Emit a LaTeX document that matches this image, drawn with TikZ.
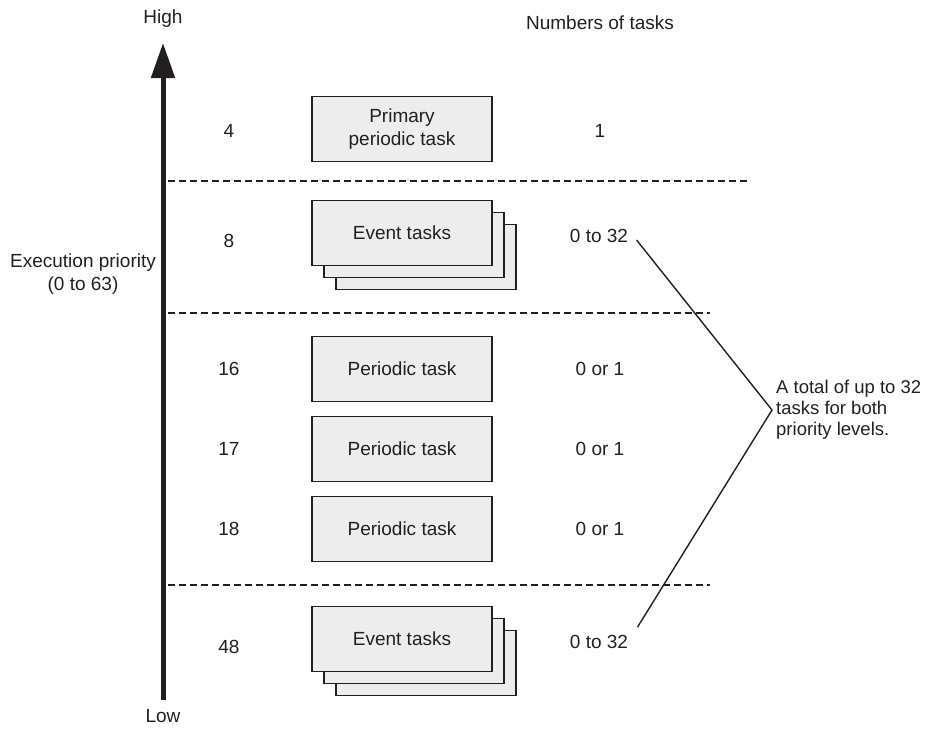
\documentclass[tikz,border=0pt]{standalone}
\usepackage{fontspec}
\setmainfont{Liberation Sans}
\usetikzlibrary{arrows.meta}
\definecolor{ink}{HTML}{231F20}
\definecolor{boxgray}{HTML}{EDEDED}

\begin{document}
\begin{tikzpicture}[x=1pt,y=-1pt,
  every node/.style={font=\fontsize{19}{23}\selectfont,text=ink},
  taskbox/.style={draw=ink,fill=boxgray,line width=1.4pt,minimum width=180pt,minimum height=65pt,inner sep=0pt,align=center},
  sep/.style={draw=ink,line width=1.3pt,dash pattern=on 7pt off 4pt}]
\useasboundingbox (0,0) rectangle (932,729);
% priority axis
\coordinate (low) at (163,700);\coordinate (high) at (163,43);
\draw[ink,line width=5pt,-{Triangle[length=35pt,width=23pt]}] (low)--(high);
\node (hi) at (163,19) {High};
\node (lo) at (163,716) {Low};
\node[align=center] (axis) at (83,274) {Execution priority\\(0 to 63)};
\node (head) at (600,23) {Numbers of tasks};
% separators
\draw[sep] (168,181)--(748,181);
\draw[sep] (168,313)--(710,313);
\draw[sep] (168,585)--(710,585);
% tasks
\node[taskbox] (prim) at (402,129) {Primary\\periodic task};
\foreach \y in {233,639}{
  \foreach \k in {2,1}{\node[taskbox] at (402+12*\k,\y+12*\k) {};}
}
\node[taskbox] (evta) at (402,233) {Event tasks};
\node[taskbox] (evtb) at (402,639) {Event tasks};
\foreach \n/\y in {16/369,17/449,18/529}{
  \node[taskbox] (per\n) at (402,\y) {Periodic task};
  \node (pr\n) at (229,\y) {\n};
  \node (cnt\n) at (600,\y) {0 or 1};
}
\node (pr4) at (229,131) {4};\node (cnt4) at (600,131) {1};
\node (pr8) at (229,241) {8};\node (cnta) at (599,236) {0 to 32};
\node (pr48) at (229,647) {48};\node (cntb) at (599,642) {0 to 32};
% total
\coordinate (apex) at (772,410);
\draw[ink,line width=1.4pt] ([xshift=5pt,yshift=-4pt]cnta.east)--(apex)--([xshift=6pt,yshift=15pt]cntb.east);
\node[anchor=west,align=left,inner sep=0pt,font=\fontsize{18.5}{21}\selectfont] (total) at (776,410) {A total of up to 32\\tasks for both\\priority levels.};
\end{tikzpicture}
\end{document}
